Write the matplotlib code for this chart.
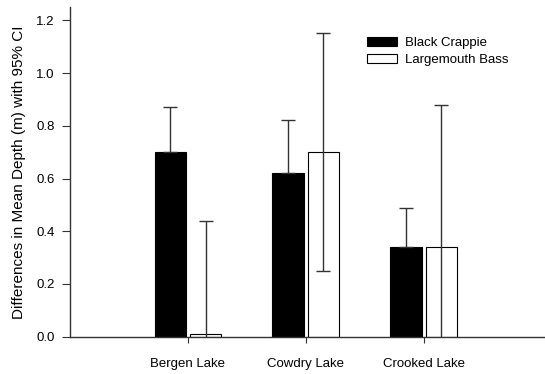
import matplotlib
matplotlib.use("Agg")
import matplotlib.pyplot as plt
import numpy as np

plt.rcParams['font.family'] = ['Liberation Sans', 'DejaVu Sans']

lakes = ["Bergen Lake", "Cowdry Lake", "Crooked Lake"]
crappie = [0.70, 0.62, 0.34]
crappie_ci = [0.17, 0.20, 0.15]
bass = [0.01, 0.70, 0.34]
bass_ci = [0.43, 0.45, 0.54]

fig = plt.figure(figsize=(5.45, 3.74), dpi=100)
ax = fig.add_axes([0.1284, 0.0997, 0.8716, 0.8813])

x = np.arange(1, len(lakes) + 1)
w = 0.265
off = 0.15
ekw = dict(ecolor="#333333", elinewidth=1.0, capsize=5, capthick=1.0)
ax.bar(x - off, crappie, w, color="black", edgecolor="black", linewidth=0.8,
       label="Black Crappie", yerr=[np.zeros(len(crappie)), crappie_ci], error_kw=ekw)
ax.bar(x + off, bass, w, color="white", edgecolor="black", linewidth=0.8,
       label="Largemouth Bass", yerr=[bass_ci, bass_ci], error_kw=ekw)

ax.set_xlim(0, 4.03)
ax.set_ylim(0, 1.25)
ax.set_yticks(np.arange(0, 1.21, 0.2))
ax.set_yticklabels([f"{v:.1f}" for v in np.arange(0, 1.21, 0.2)], fontsize=9.5)
ax.set_xticks(x)
ax.set_xticklabels(lakes, fontsize=9.5)
ax.tick_params(axis='x', length=4, pad=11, color="#333333")
ax.tick_params(axis='y', length=6, pad=5, color="#333333")
for s in ["top", "right"]:
    ax.spines[s].set_visible(False)
for s in ["left", "bottom"]:
    ax.spines[s].set_color("#333333")
    ax.spines[s].set_linewidth(1.0)
ax.set_ylabel("Differences in Mean Depth (m) with 95% CI", fontsize=11, labelpad=7)

leg = ax.legend(loc="upper left", bbox_to_anchor=(0.6, 0.945), frameon=False,
                fontsize=9.5, handlelength=2.3, handleheight=0.7, labelspacing=0.35,
                handletextpad=0.6)

fig.savefig("out.png", dpi=100)
